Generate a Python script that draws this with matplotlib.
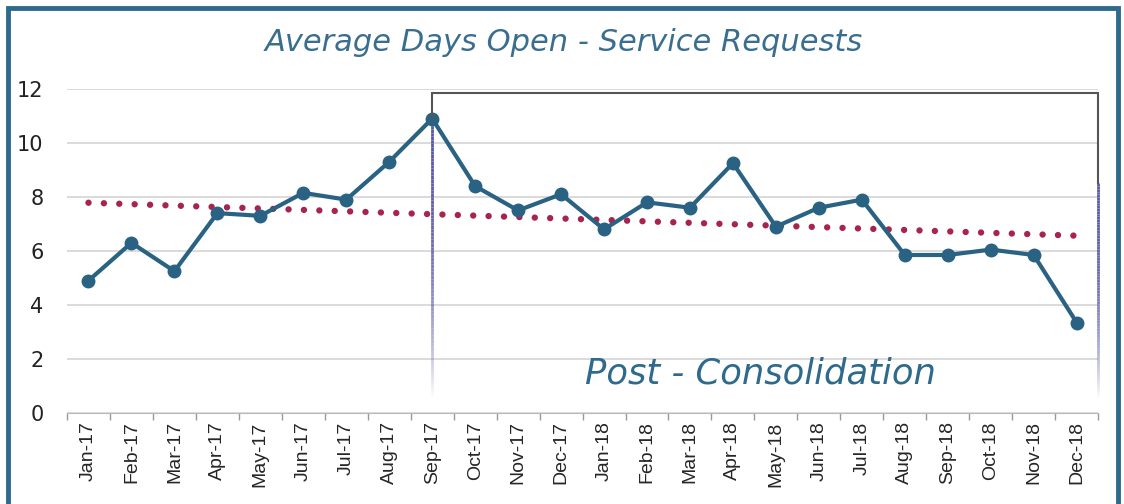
import matplotlib.pyplot as plt
import matplotlib.patches as patches
from matplotlib.collections import LineCollection
import numpy as np

months = ['Jan-17', 'Feb-17', 'Mar-17', 'Apr-17', 'May-17', 'Jun-17', 'Jul-17', 'Aug-17',
          'Sep-17', 'Oct-17', 'Nov-17', 'Dec-17', 'Jan-18', 'Feb-18', 'Mar-18', 'Apr-18',
          'May-18', 'Jun-18', 'Jul-18', 'Aug-18', 'Sep-18', 'Oct-18', 'Nov-18', 'Dec-18']
days_open = [4.9, 6.3, 5.25, 7.4, 7.3, 8.15, 7.9, 9.3,
             10.9, 8.4, 7.5, 8.1, 6.8, 7.8, 7.6, 9.25,
             6.9, 7.6, 7.9, 5.85, 5.85, 6.05, 5.85, 3.35]
yticks = [0, 2, 4, 6, 8, 10, 12]
box_start = 'Sep-17'
box_top = 11.85

line_color = '#2a6283'
trend_color = '#a8244f'
frame_color = '#2e6a8c'

fig = plt.figure(figsize=(11.24, 5.04), dpi=100)
ax = fig.add_axes([0.0596, 0.1806, 0.9174, 0.643])

x = np.arange(len(months))
ax.plot(x, days_open, '-o', color=line_color, linewidth=3, markersize=9, zorder=4)

# linear trend line (spreadsheet-style trendline)
coef = np.polyfit(x, days_open, 1)
ax.plot(x, np.polyval(coef, x), linestyle=(0, (0.01, 2.4)), color=trend_color,
        linewidth=4.6, dash_capstyle='round', zorder=3)

ax.set_xlim(-0.5, len(months) - 0.5)
ax.set_ylim(0, 12)
ax.set_yticks(yticks)
ax.set_yticklabels([str(v) for v in yticks], fontsize=15, color='#222222', family='DejaVu Sans')
ax.tick_params(axis='y', length=0, pad=17)
ax.set_xticks(x)
ax.set_xticklabels(months, rotation=90, fontsize=14, color='#262626', family='Liberation Sans')
ax.set_xticks(np.arange(-0.5, len(months)), minor=True)
ax.tick_params(axis='x', which='major', length=0, pad=6)
ax.tick_params(axis='x', which='minor', length=5, color='#999999', width=1)
ax.grid(axis='y', color='#d4d4d4', linewidth=1.2)
ax.set_axisbelow(True)
for s in ['top', 'left', 'right']:
    ax.spines[s].set_visible(False)
ax.spines['bottom'].set_color('#bbbbbb')

# post-consolidation box
bx = months.index(box_start)
rx = len(months) - 0.5
ax.plot([bx, bx, rx, rx], [days_open[bx], box_top, box_top, 8.5], color='#555555',
        linewidth=1.5, zorder=5, solid_joinstyle='miter', clip_on=False)

def fade_line(xpos, ytop, ybot):
    ys = np.linspace(ytop, ybot, 80)
    segs = [[(xpos, ys[i]), (xpos, ys[i + 1])] for i in range(len(ys) - 1)]
    t = np.linspace(0, 1, len(segs))
    alphas = np.clip(1 - t ** 2.5, 0, 1)
    cols = [(0.35, 0.35, 0.66, a) for a in alphas]
    lc = LineCollection(segs, colors=cols, linewidths=2, zorder=2)
    lc.set_clip_on(False)
    ax.add_collection(lc)

fade_line(bx, days_open[bx], 0.5)
fade_line(rx, 8.5, 0.5)

ax.text(15.65, 1.48, 'Post - Consolidation', fontsize=25.5, style='italic',
        color='#2e6a8c', ha='center', va='center', family='DejaVu Sans')

fig.text(0.502, 0.915, 'Average Days Open - Service Requests', fontsize=22, style='italic',
         color='#3a6e8e', ha='center', va='center', family='DejaVu Sans')

fig.patches.append(patches.Rectangle((8 / 1124, -0.05), 1110 / 1124, 1 - 8 / 504 + 0.05,
                                     transform=fig.transFigure, fill=False,
                                     edgecolor=frame_color, linewidth=3.5))

fig.savefig('out.png', dpi=100)
